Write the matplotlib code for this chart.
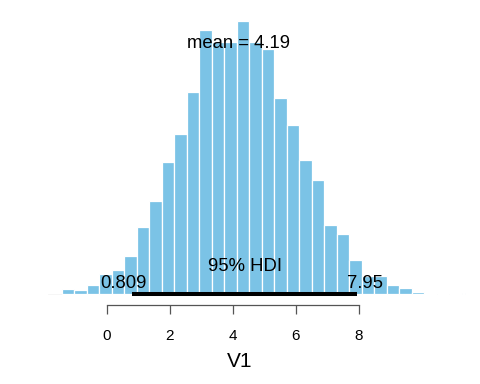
import matplotlib
matplotlib.use("Agg")
import matplotlib.pyplot as plt
import numpy as np

plt.rcParams['font.family'] = ['Liberation Sans', 'DejaVu Sans']

# ---- data ----
bin_start = -1.433          # left edge of first bin (sample minimum)
bin_width = 0.3967          # HDI width / 18
last_bin_width = 0.105      # final partial bin up to sample maximum
density = [0.0043, 0.0035, 0.0078, 0.0161, 0.0193, 0.0312, 0.0540, 0.0755,
           0.1066, 0.1292, 0.1628, 0.2128, 0.2031, 0.2031, 0.2203, 0.2036,
           0.1975, 0.1582, 0.1368, 0.1080, 0.0919, 0.0556, 0.0484, 0.0274,
           0.0145, 0.0145, 0.0073, 0.0051, 0.0019, 0.0003, 0.0, 0.0, 0.0013]
mean_val = 4.19
hdi_low, hdi_high = 0.809, 7.95
x_ticks = [0, 2, 4, 6, 8]
x_label = "V1"

# ---- figure ----
fig = plt.figure(figsize=(4.8, 3.84), dpi=100)
ax = fig.add_axes([40/480, 1-305/384, 435/480, 290/384])

n = len(density)
widths = [bin_width] * (n - 1) + [last_bin_width]
lefts = [bin_start + i * bin_width for i in range(n)]

bar_color = '#7BC3E6'
ax.plot([-1.86, 11.3], [0, 0], color='#f3f3f3', lw=0.5, zorder=0)
ax.bar(lefts, density, width=widths, align='edge', color=bar_color,
       edgecolor='white', linewidth=0.9, zorder=1)

# HDI bar
ax.plot([hdi_low, hdi_high], [0, 0], color='black', lw=2.9,
        solid_capstyle='butt', zorder=3)

fs_ann = 13.3
ax.text(mean_val, 0.1983, f"mean = {mean_val}", ha='center', va='baseline',
        fontsize=fs_ann, zorder=4)
ax.text((hdi_low + hdi_high) / 2, 0.019, "95% HDI", ha='center',
        va='baseline', fontsize=fs_ann, zorder=4)
t_lo = ax.text(hdi_low, 0.0053, f"{hdi_low:g}", ha='left', va='baseline',
               fontsize=fs_ann, zorder=4)
t_hi = ax.text(hdi_high, 0.0053, f"{hdi_high:g}", ha='left', va='baseline',
               fontsize=fs_ann, zorder=4)

ax.set_xlim((40-106.7)/31.54, (475-106.7)/31.54)
ax.set_ylim(-(305-294.3)/1240.6, (294.3-15)/1240.6)

# adjust HDI end labels: anchor at 70% / 30% of text width
fig.canvas.draw()
r = fig.canvas.get_renderer()
inv = ax.transData.inverted()
for t, frac in ((t_lo, 0.7), (t_hi, 0.3)):
    bb = t.get_window_extent(r)
    w = inv.transform((bb.x1, 0))[0] - inv.transform((bb.x0, 0))[0]
    x0, y0 = t.get_position()
    t.set_position((x0 - frac * w, y0))

# axes styling
for s in ('top', 'right', 'left'):
    ax.spines[s].set_visible(False)
ax.spines['bottom'].set_bounds(x_ticks[0], x_ticks[-1])
ax.spines['bottom'].set_color('#555555')
ax.spines['bottom'].set_linewidth(0.9)
ax.set_yticks([])
ax.set_xticks(x_ticks)
ax.set_xticklabels([str(v) for v in x_ticks])
ax.tick_params(axis='x', direction='out', length=6.7, width=0.9,
               color='#555555', pad=10.5, labelsize=11)
ax.set_xlabel(x_label, fontsize=15, va='center')
ax.xaxis.set_label_coords((239.5-40)/435, (305-361.7)/290)

fig.savefig("out.png", dpi=100)
